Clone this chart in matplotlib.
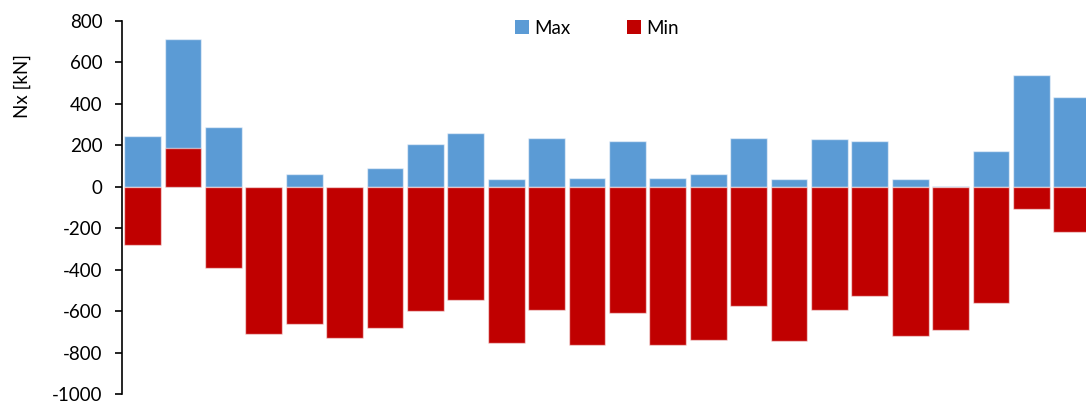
import matplotlib
matplotlib.use("Agg")
import matplotlib.pyplot as plt
from matplotlib.patches import Patch
import numpy as np

plt.rcParams['font.family'] = ['Lato', 'DejaVu Sans']

max_vals = [242, 713, 289, 0, 59, 0, 91, 204, 258, 35, 236, 43, 220, 43,
            59, 236, 35, 228, 218, 35, 3, 172, 538, 434]
min_vals = [-283, 188, -392, -712, -664, -730, -682, -601, -547, -754, -595, -762,
            -611, -762, -738, -577, -746, -593, -529, -722, -690, -561, -108, -219]
series_names = ["Max", "Min"]
yticks = [-1000, -800, -600, -400, -200, 0, 200, 400, 600, 800]

blue = "#5B9BD5"
red = "#C00000"

fig = plt.figure(figsize=(10.86, 4.05), dpi=100)
ax = fig.add_axes([0.1126, 0.027, 1 - 0.1126, 0.949 - 0.027])

x = np.arange(len(max_vals))
w = 0.91
ax.bar(x, max_vals, width=w, color=blue, edgecolor=(1, 1, 1, 0.55), linewidth=1.0, zorder=2)
ax.bar(x, min_vals, width=w, color=red, edgecolor=(1, 1, 1, 0.55), linewidth=1.0, zorder=3)

ax.set_xlim(-0.5, 23.35)
ax.set_ylim(-1000, 800)
ax.set_yticks(yticks)
ax.set_yticklabels([str(t) for t in yticks], fontsize=13.5, color="#000000")
ax.tick_params(axis='y', direction='out', length=5, width=1.2, pad=9)
ax.set_xticks([])
for s in ['top', 'right', 'bottom']:
    ax.spines[s].set_visible(False)
ax.spines['left'].set_linewidth(1.2)

fig.text(22 / 1086, 1 - 86 / 405, "Nx [kN]", rotation=90, ha='center', va='center',
         fontsize=13.5)

handles = [Patch(facecolor=blue, edgecolor='none'), Patch(facecolor=red, edgecolor='none')]
fig.legend(handles, series_names, loc='center', bbox_to_anchor=(597 / 1086, 1 - 28 / 405),
           ncol=2, frameon=False, fontsize=13.5, handlelength=0.75, handleheight=0.75,
           handletextpad=0.3, columnspacing=3.0)

fig.savefig("out.png", dpi=100)
